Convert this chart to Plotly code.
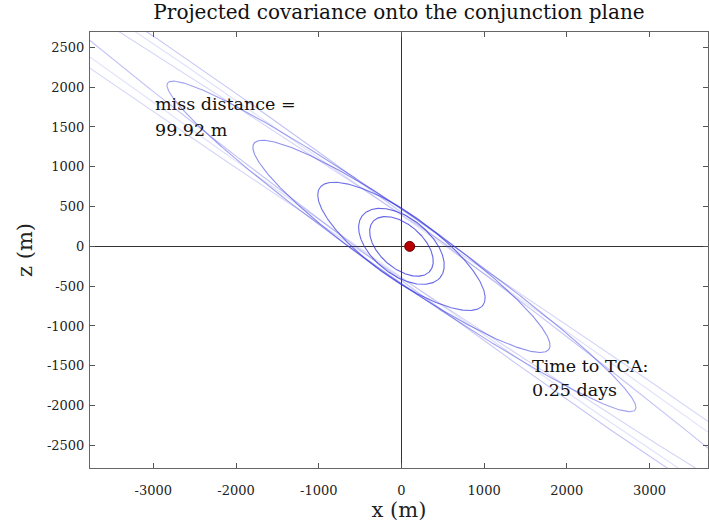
import numpy as np
import plotly.graph_objects as go

# ---- data ----
# covariance ellipses (centred on the origin), largest ones fade out
semi_major = [465, 611, 1232, 2203, 3494, 6500, 9000, 12000]
semi_minor = [269, 351, 395, 390, 380, 340, 330, 315]
angle_deg = [-43.5, -40.4, -37.0, -36.0, -36.0, -37.5, -34.5, -36.0]
line_alpha = [0.80, 0.78, 0.72, 0.58, 0.48, 0.30, 0.22, 0.16]

miss_x = [99.92]
miss_z = [0.0]

x_ticks = [-3000, -2000, -1000, 0, 1000, 2000, 3000]
x_ticktext = ["-3000", "-2000", "-1000", "0", "1000", "2000", "3000"]
z_ticks = [-2500, -2000, -1500, -1000, -500, 0, 500, 1000, 1500, 2000, 2500]
z_ticktext = ["-2500", "-2000", "-1500", "-1000", "-500", "0", "500", "1000",
              "1500", "2000", "2500"]

title_text = "Projected covariance onto the conjunction plane"
miss_lines = ["miss distance =", "99.92 m"]
miss_pos = [(-3000, 1793), (-3000, 1466)]
tca_lines = ["Time to TCA:", "0.25 days"]
tca_pos = [(1555, -1500), (1555, -1802)]

FONT = "DejaVu Serif"

fig = go.Figure()
t = np.linspace(0, 2 * np.pi, 721)
for a, b, ang, al in zip(semi_major, semi_minor, angle_deg, line_alpha):
    th = np.deg2rad(ang)
    u = a * np.cos(t)
    w = b * np.sin(t)
    xs = u * np.cos(th) - w * np.sin(th)
    zs = u * np.sin(th) + w * np.cos(th)
    fig.add_trace(go.Scatter(x=xs, y=zs, mode="lines",
                             line=dict(color=f"rgba(60,60,225,{al})", width=1.1),
                             hoverinfo="skip", showlegend=False))

fig.add_trace(go.Scatter(x=miss_x, y=miss_z, mode="markers",
                         marker=dict(size=10, color="#b80000",
                                     line=dict(color="#700000", width=1)),
                         showlegend=False))

for txt, (px, pz) in zip(miss_lines + tca_lines, miss_pos + tca_pos):
    fig.add_annotation(x=px, y=pz, text=txt, showarrow=False,
                       xanchor="left", yanchor="middle", align="left",
                       font=dict(family=FONT, size=17.5, color="#111"))

axis_common = dict(ticks="inside", ticklen=5, tickcolor="#555", showline=True,
                   linecolor="#666", linewidth=1, mirror="ticks", showgrid=False,
                   zeroline=True, zerolinecolor="#333", zerolinewidth=1,
                   tickfont=dict(family=FONT, size=13, color="#222"))

fig.update_layout(
    width=709, height=525,
    margin=dict(l=90, r=1, t=32, b=57),
    paper_bgcolor="white", plot_bgcolor="white",
    title=dict(text=title_text, x=0.5, xref="paper", xanchor="center",
               y=1, yref="container", yanchor="top", pad=dict(t=5),
               font=dict(family=FONT, size=20, color="#111")),
    xaxis=dict(range=[-3766, 3707], tickvals=x_ticks, ticktext=x_ticktext,
               ticklabelstandoff=10,
               title=dict(text="x (m)", font=dict(family=FONT, size=21, color="#222"),
                          standoff=4),
               **axis_common),
    yaxis=dict(range=[-2784, 2693], tickvals=z_ticks, ticktext=z_ticktext,
               ticklabelstandoff=2,
               title=dict(text="z (m)", font=dict(family=FONT, size=21, color="#222"),
                          standoff=8),
               **axis_common),
)

fig.write_html("out.html")
